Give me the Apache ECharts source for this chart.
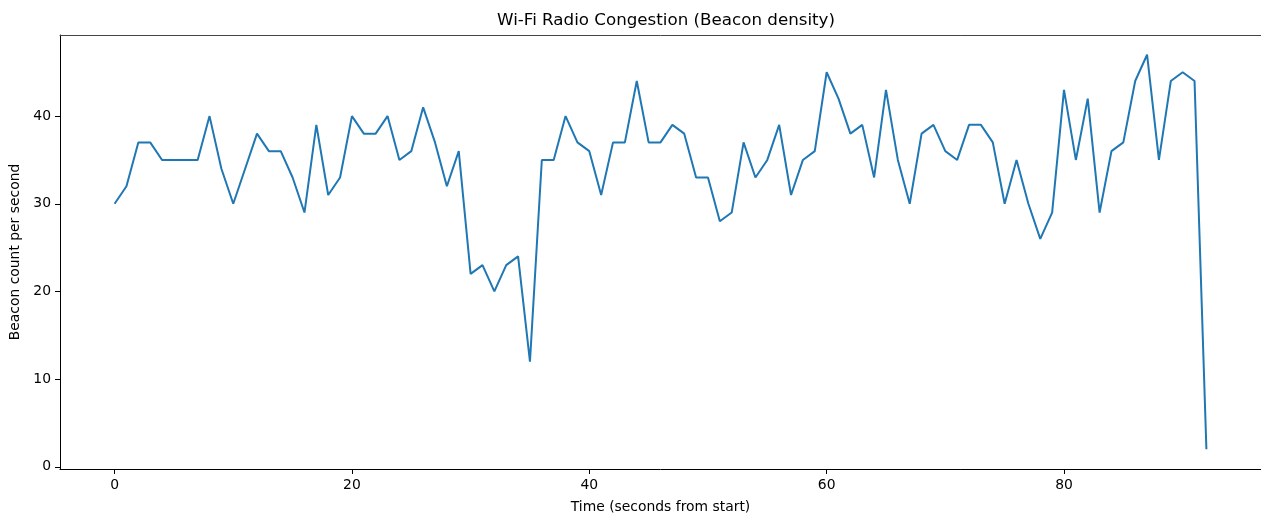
<!DOCTYPE html>
<html>
<head>
<meta charset="utf-8">
<script src="https://cdn.jsdelivr.net/npm/echarts@6/dist/echarts.min.js"></script>
<style>
html,body{margin:0;padding:0;background:#fff;}
#chart{width:1261px;height:519px;}
</style>
</head>
<body>
<div id="chart"></div>
<script>
const titleText = 'Wi-Fi Radio Congestion (Beacon density)';
const xAxisLabel = 'Time (seconds from start)';
const yAxisLabel = 'Beacon count per second';
const seconds = [0,1,2,3,4,5,6,7,8,9,10,11,12,13,14,15,16,17,18,19,20,21,22,23,24,25,26,27,28,29,30,31,32,33,34,35,36,37,38,39,40,41,42,43,44,45,46,47,48,49,50,51,52,53,54,55,56,57,58,59,60,61,62,63,64,65,66,67,68,69,70,71,72,73,74,75,76,77,78,79,80,81,82,83,84,85,86,87,88,89,90,91,92];
const beacons = [30,32,37,37,35,35,35,35,40,34,30,34,38,36,36,33,29,39,31,33,40,38,38,40,35,36,41,37,32,36,22,23,20,23,24,12,35,35,40,37,36,31,37,37,44,37,37,39,38,33,33,28,29,37,33,35,39,31,35,36,45,42,38,39,33,43,35,30,38,39,36,35,39,39,37,30,35,30,26,29,43,35,42,29,36,37,44,47,35,44,45,44,2];
const xTicks = [0,20,40,60,80];
const yTicks = [0,10,20,30,40];

const FONT = 'DejaVu Sans';
const chart = echarts.init(document.getElementById('chart'), null, {renderer:'canvas'});
chart.setOption({
  animation:false,
  backgroundColor:'#fff',
  title:{
    text:titleText,
    left:661, top:7, textAlign:'center',
    textStyle:{fontFamily:FONT,fontSize:16.7,fontWeight:'normal',color:'#000'}
  },
  grid:{left:60,top:35,width:1202,height:436,show:false},
  xAxis:[{
    type:'value', min:-4.6, max:96.6,
    name:xAxisLabel, nameLocation:'middle', nameGap:31,
    nameTextStyle:{fontFamily:FONT,fontSize:13.9,color:'#000'},
    axisLine:{show:true,onZero:false,lineStyle:{color:'#000',width:1}},
    axisTick:{show:true,length:5,customValues:xTicks,lineStyle:{color:'#000'}},
    axisLabel:{show:true,customValues:xTicks,margin:9,fontFamily:FONT,fontSize:13.9,color:'#000'},
    splitLine:{show:false}
  },{
    type:'value', min:-4.6, max:96.6, position:'top',
    axisLine:{show:true,onZero:false,lineStyle:{color:'#444',width:1}},
    axisTick:{show:false}, axisLabel:{show:false}, splitLine:{show:false}
  }],
  yAxis:{
    type:'value', min:-0.25, max:49.25,
    name:yAxisLabel, nameLocation:'middle', nameGap:38,
    nameTextStyle:{fontFamily:FONT,fontSize:13.9,color:'#000'},
    axisLine:{show:true,onZero:false,lineStyle:{color:'#000',width:1}},
    axisTick:{show:true,length:5,customValues:yTicks,lineStyle:{color:'#000'}},
    axisLabel:{show:true,customValues:yTicks,margin:9,fontFamily:FONT,fontSize:13.9,color:'#000'},
    splitLine:{show:false}
  },
  series:[{
    type:'line',
    xAxisIndex:0,
    data:seconds.map((s,i)=>[s,beacons[i]]),
    showSymbol:false,
    lineStyle:{color:'#1f77b4',width:2},
    itemStyle:{color:'#1f77b4'}
  }]
});
</script>
</body>
</html>
